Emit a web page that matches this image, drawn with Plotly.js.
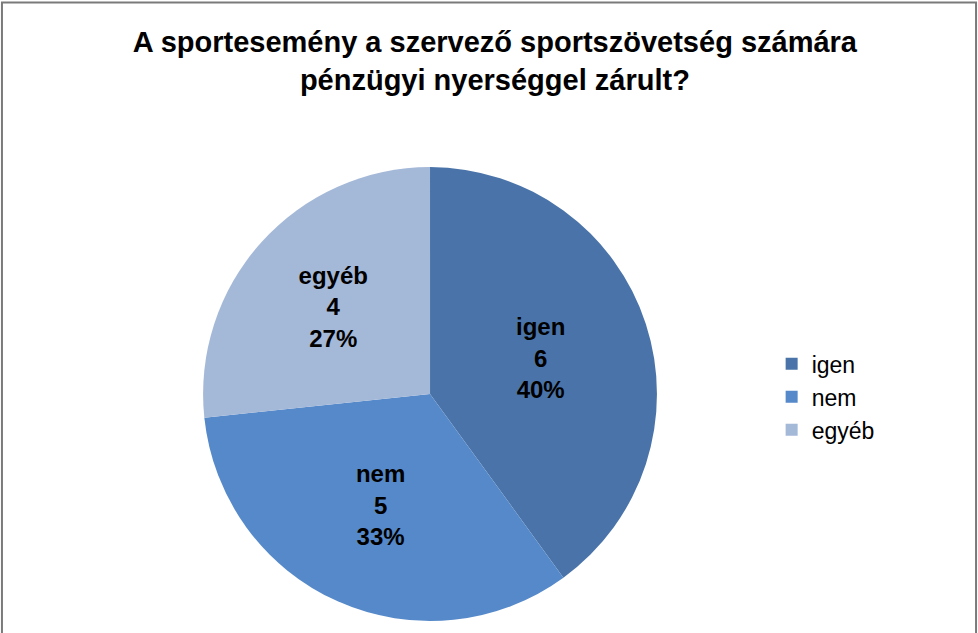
<!DOCTYPE html>
<html>
<head>
<meta charset="utf-8">
<script src="https://cdn.plot.ly/plotly-3.0.1.min.js"></script>
<style>html,body{margin:0;padding:0;background:#fff;}#chart{width:978px;height:633px;}</style>
</head>
<body>
<div id="chart"></div>
<script>
const categories = ["igen", "nem", "egyéb"];
const counts = [6, 5, 4];
const sliceColors = ["#4A74A9", "#5589C9", "#A4B8D8"];
const titleText = "A sportesemény a szervező sportszövetség számára<br>pénzügyi nyerséggel zárult?";

const FONT = "'Liberation Sans Narrow', 'Arial Narrow', 'Liberation Sans', Arial, sans-serif";

const trace = {
  type: "pie",
  labels: categories,
  values: counts,
  sort: false,
  direction: "clockwise",
  rotation: 0,
  marker: {colors: sliceColors, line: {width: 0}},
  texttemplate: "%{label}<br>%{value}<br>%{percent:.0%}",
  textposition: "inside",
  insidetextorientation: "horizontal",
  insidetextfont: {family: FONT, size: 24, color: "#000", weight: "bold"},
  hoverinfo: "none",
  domain: {x: [0.2076, 0.6718], y: [0.019, 0.736]}
};

const layout = {
  width: 978, height: 633,
  margin: {l: 0, r: 0, t: 0, b: 0},
  paper_bgcolor: "#fff",
  title: {
    text: titleText,
    font: {family: FONT, size: 29, color: "#000", weight: "bold"},
    x: 0.506, xanchor: "center",
    y: 0.918, yanchor: "top"
  },
  showlegend: true,
  legend: {
    x: 0.789, xanchor: "left",
    y: 0.373, yanchor: "middle",
    font: {family: FONT, size: 23, color: "#000"},
    itemwidth: 30,
    tracegroupgap: 0
  },
  shapes: [{
    type: "rect", xref: "paper", yref: "paper",
    x0: 0.002, x1: 0.998, y0: -0.1, y1: 0.996,
    line: {color: "#7a7a7a", width: 2}
  }]
};

Plotly.newPlot("chart", [trace], layout, {staticPlot: true});
</script>
</body>
</html>
